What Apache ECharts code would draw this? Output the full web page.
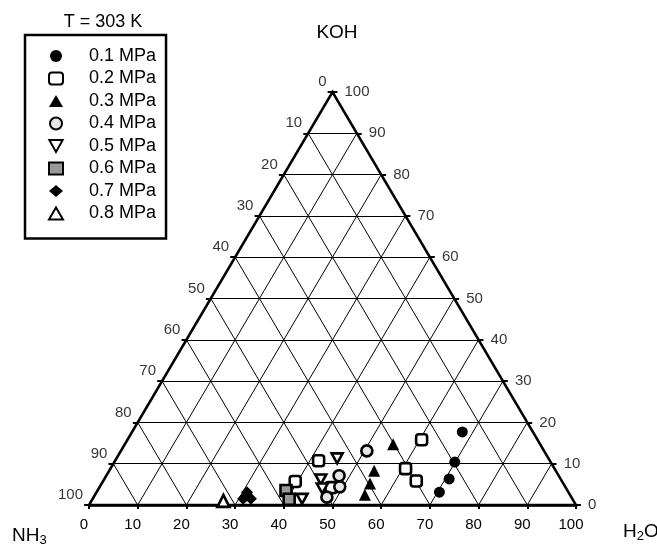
<!DOCTYPE html>
<html><head><meta charset="utf-8">
<script src="https://cdn.jsdelivr.net/npm/echarts@6/dist/echarts.min.js"></script>
<style>html,body{margin:0;padding:0;background:#fff}#c{width:657px;height:544px}</style>
</head><body><div id="c"></div>
<script>
// tick values (wt%) shared by the three sides
const ticks = [0, 10, 20, 30, 40, 50, 60, 70, 80, 90, 100];
const pressureNames = ['0.1 MPa', '0.2 MPa', '0.3 MPa', '0.4 MPa', '0.5 MPa', '0.6 MPa', '0.7 MPa', '0.8 MPa'];

// compositions: H2O wt% and KOH wt% (NH3 = 100 - H2O - KOH)
const p01_H2O = [67.8, 69.9, 70.8, 70.4];
const p01_KOH = [17.7, 10.4, 6.3, 3.1];
const p02_H2O = [60.4, 60.6, 64.3, 41.8, 39.5, 47.6];
const p02_KOH = [15.8, 8.8, 5.8, 10.7, 5.7, 4.2];
const p03_H2O = [55.1, 54.4, 55.1, 55.4];
const p03_KOH = [14.7, 8.3, 5.2, 2.5];
const p04_H2O = [50.5, 47.8, 49.3, 47.9];
const p04_KOH = [13.1, 7.1, 4.4, 1.9];
const p05_H2O = [45.3, 44.5, 45.9, 43.0];
const p05_KOH = [11.3, 6.2, 4.0, 1.5];
const p06_H2O = [38.7, 40.4];
const p06_KOH = [3.5, 1.4];
const p07_H2O = [30.9, 32.5, 31.3, 30.9];
const p07_KOH = [1.5, 1.5, 2.3, 3.1];
const p08_H2O = [27.1];
const p08_KOH = [1.0];

const FONT = "'Liberation Sans', Arial, sans-serif";

// ternary -> cartesian (x: H2O + KOH/2, y: KOH)
function toXY(h2o, koh) { return [h2o + koh / 2, koh]; }
function pts(h, k) { return h.map((v, i) => toXY(v, k[i])); }

const inner = ticks.filter(t => t > 0 && t < 100);
const gridLines = [];
inner.forEach(k => {
  gridLines.push({coords: [toXY(0, k), toXY(100 - k, k)]});      // const KOH
  gridLines.push({coords: [toXY(k, 0), toXY(k, 100 - k)]});      // const H2O
  gridLines.push({coords: [toXY(100 - k, 0), toXY(0, 100 - k)]}); // const NH3
});
const sideTicks = [];
ticks.forEach(k => {
  const l = toXY(0, 100 - k);
  sideTicks.push({coords: [l, [l[0] - 1, l[1]]]});
  const r = toXY(100 - k, k);
  sideTicks.push({coords: [r, [r[0] + 1, r[1]]]});
});

const ink = '#000';
const markerDefs = [
  {h: p01_H2O, k: p01_KOH, symbol: 'circle', size: 11, fill: ink, bw: 0},
  {h: p02_H2O, k: p02_KOH, symbol: 'roundRect', size: 11, fill: '#fff', bw: 2.6},
  {h: p03_H2O, k: p03_KOH, symbol: 'triangle', size: 12, fill: ink, bw: 0},
  {h: p04_H2O, k: p04_KOH, symbol: 'circle', size: 11, fill: '#e6e6e6', bw: 2.6},
  {h: p05_H2O, k: p05_KOH, symbol: 'path://M0,0 L10,0 L5,9 Z', size: 11, fill: '#fff', bw: 2.6},
  {h: p06_H2O, k: p06_KOH, symbol: 'rect', size: 11, fill: '#999', bw: 2.6},
  {h: p07_H2O, k: p07_KOH, symbol: 'diamond', size: 12, fill: ink, bw: 0},
  {h: p08_H2O, k: p08_KOH, symbol: 'triangle', size: 12, fill: '#fff', bw: 2.6}
];

const series = [
  {type: 'lines', coordinateSystem: 'cartesian2d', silent: true, clip: false, z: 1,
   lineStyle: {color: ink, width: 1, opacity: 1}, data: gridLines},
  {type: 'lines', coordinateSystem: 'cartesian2d', silent: true, clip: false, z: 3,
   lineStyle: {color: ink, width: 2, opacity: 1}, data: sideTicks},
  {type: 'lines', coordinateSystem: 'cartesian2d', polyline: true, silent: true, clip: false, z: 3,
   lineStyle: {color: ink, width: 2.5, opacity: 1},
   data: [{coords: [toXY(0, 0), toXY(100, 0), toXY(0, 100), toXY(0, 0)]}]},
  {type: 'scatter', silent: true, symbolSize: 0, clip: false, z: 4,
   data: ticks.map(k => ({value: toXY(0, 100 - k), name: String(k)})),
   label: {show: true, position: 'left', distance: 6, offset: [0, -10], formatter: p => p.name,
           color: ink, fontSize: 15, fontFamily: FONT}},
  {type: 'scatter', silent: true, symbolSize: 0, clip: false, z: 4,
   data: ticks.map(k => ({value: toXY(100 - k, k), name: String(k)})),
   label: {show: true, position: 'right', distance: 12, offset: [0, 0], formatter: p => p.name,
           color: ink, fontSize: 15, fontFamily: FONT}}
];
markerDefs.forEach((m, i) => {
  series.push({
    name: pressureNames[i], type: 'scatter', z: 5, clip: false,
    symbol: m.symbol, symbolSize: m.size, symbolKeepAspect: true,
    itemStyle: {color: m.fill, borderColor: ink, borderWidth: m.bw, opacity: 1},
    data: pts(m.h, m.k)
  });
});

const chart = echarts.init(document.getElementById('c'), null, {renderer: 'canvas'});
chart.setOption({
  animation: false,
  backgroundColor: '#fff',
  title: [
    {text: 'T = 303 K', left: 98, top: 8, textAlign: 'center',
     textStyle: {fontSize: 18, fontWeight: 'normal', color: ink, fontFamily: FONT}},
    {text: 'KOH', left: 332, top: 18, textAlign: 'center',
     textStyle: {fontSize: 19, fontWeight: 'normal', color: ink, fontFamily: FONT}},
    {text: 'NH{s|3}', left: 7, top: 519,
     textStyle: {fontSize: 19, fontWeight: 'normal', color: ink, fontFamily: FONT,
                 rich: {s: {fontSize: 13, verticalAlign: 'bottom', padding: [10, 0, 0, 0], color: ink, fontFamily: FONT}}}},
    {text: 'H{s|2}O', left: 618, top: 515,
     textStyle: {fontSize: 19, fontWeight: 'normal', color: ink, fontFamily: FONT,
                 rich: {s: {fontSize: 13, verticalAlign: 'bottom', padding: [10, 0, 0, 0], color: ink, fontFamily: FONT}}}}
  ],
  legend: {
    orient: 'vertical', left: 25, top: 35,
    padding: [12, 10, 16, 23],
    itemWidth: 14, itemHeight: 12, itemGap: 4.5,
    borderColor: ink, borderWidth: 2.5,
    textStyle: {fontSize: 18, fontFamily: FONT, color: ink, padding: [0, 0, 0, 21]},
    data: pressureNames
  },
  grid: {left: 89, right: 81, top: 92, bottom: 39, containLabel: false, outerBoundsMode: 'none'},
  xAxis: {
    type: 'value', min: 0, max: 100, interval: 10,
    axisLine: {show: true, lineStyle: {color: ink, width: 2.5}},
    axisTick: {show: true, length: 4, lineStyle: {color: ink, width: 2}},
    axisLabel: {show: true, margin: 12, color: ink, fontSize: 15, fontFamily: FONT, padding: [0, 10, 0, 0]},
    splitLine: {show: false}
  },
  yAxis: {
    type: 'value', min: 0, max: 100, show: false, splitLine: {show: false}
  },
  series: series
});
</script>
</body></html>
